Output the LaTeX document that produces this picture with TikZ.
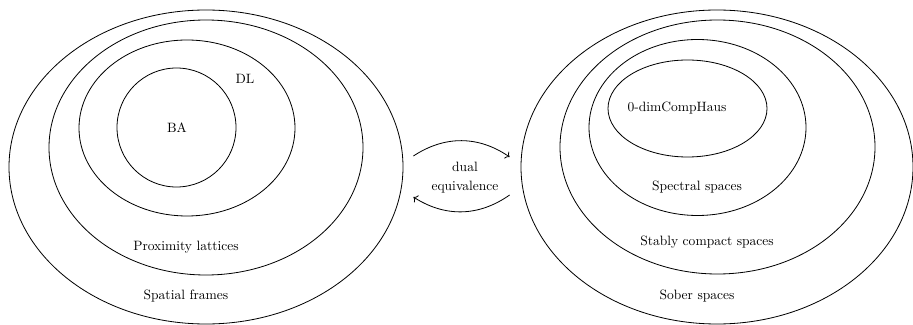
\documentclass[tikz,border=0pt]{standalone}
\usepackage{tikz}
\usetikzlibrary{shapes.geometric, arrows.meta, positioning}

\begin{document}
\begin{tikzpicture}[
  x=0.74pt, y=-0.74pt,
  region/.style 2 args={
    ellipse, draw, line width=0.6pt, inner sep=0pt,
    minimum width=#1*0.74pt, minimum height=#2*0.74pt
  },
  tag/.style={font=\normalsize, inner sep=1pt},
  arrow/.style={->, line width=0.6pt}
]
\useasboundingbox (0,0) rectangle (913,325);

% Left family (algebras)
\node[region={394}{314}] (spat) at (206,167) {};
\node[region={314}{255}] (prox) at (206,147.5) {};
\node[region={216}{176}] (dl)   at (187,128) {};
\node[region={119}{119}] (ba)   at (176.5,127.5) {};

\node[tag] (tba)   at (177,128) {BA};
\node[tag] (tdl)   at (245,79)  {DL};
\node[tag] (tprox) at (186,247) {Proximity lattices};
\node[tag] (tspat) at (186,296) {Spatial frames};

% Right family (spaces)
\node[region={392}{314}] (sober) at (717,167) {};
\node[region={315}{254}] (stab)  at (717.5,147) {};
\node[region={217}{176}] (spec)  at (697.5,127.5) {};
\node[region={159}{97}]  (zero)  at (687.5,108.5) {};

\node[tag] (tzero)  at (677,108) {0-dimCompHaus};
\node[tag] (tspec)  at (697,187) {Spectral spaces};
\node[tag] (tstab)  at (707,242) {Stably compact spaces};
\node[tag] (tsober) at (697,296) {Sober spaces};

% Duality
\node[tag, align=center] (dual) at (465,178) {dual\\[2pt]equivalence};
\draw[arrow] ([shift={(10,-11)}]spat.east) to[bend left=34] ([shift={(-11,-10)}]sober.west);
\draw[arrow] ([shift={(-11,28)}]sober.west) to[bend left=34] ([shift={(10,30)}]spat.east);

\end{tikzpicture}
\end{document}
